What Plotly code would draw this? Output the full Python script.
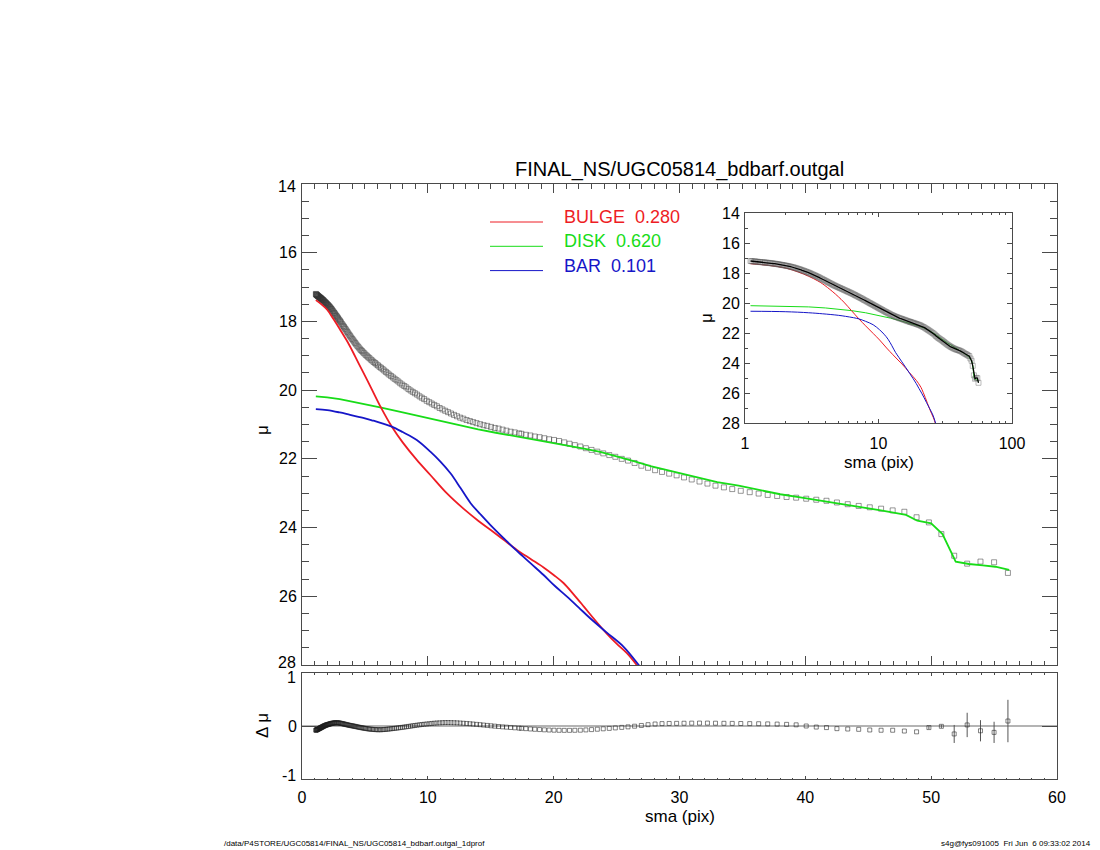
import plotly.graph_objects as go

# ---------------------------------------------------------------------------
# Style
# ---------------------------------------------------------------------------
FONT = "Liberation Sans, Arial, Helvetica, sans-serif"
NARROW = "Liberation Sans Narrow, Liberation Sans, Arial, sans-serif"
RED = "#ee1c24"
GREEN = "#18dc18"
BLUE = "#1616c8"
FRAME = "#4a4a4a"
W, H = 1100, 850

# ---------------------------------------------------------------------------
# Data
# ---------------------------------------------------------------------------
SMA = [
    1.10, 1.12, 1.14, 1.17, 1.19, 1.21, 1.24, 1.26, 1.29, 1.31,
    1.34, 1.37, 1.40, 1.42, 1.45, 1.48, 1.51, 1.54, 1.57, 1.60,
    1.63, 1.67, 1.70, 1.73, 1.77, 1.80, 1.84, 1.88, 1.91, 1.95,
    1.99, 2.03, 2.07, 2.11, 2.16, 2.20, 2.24, 2.29, 2.33, 2.38,
    2.43, 2.48, 2.53, 2.58, 2.63, 2.68, 2.74, 2.79, 2.85, 2.90,
    2.96, 3.02, 3.08, 3.14, 3.21, 3.27, 3.34, 3.40, 3.47, 3.54,
    3.61, 3.68, 3.76, 3.83, 3.91, 3.99, 4.07, 4.15, 4.23, 4.31,
    4.40, 4.49, 4.58, 4.67, 4.76, 4.86, 4.95, 5.05, 5.15, 5.26,
    5.36, 5.47, 5.58, 5.69, 5.81, 5.92, 6.04, 6.16, 6.28, 6.41,
    6.54, 6.67, 6.80, 6.94, 7.08, 7.22, 7.36, 7.51, 7.66, 7.81,
    7.97, 8.13, 8.29, 8.46, 8.63, 8.80, 8.97, 9.15, 9.34, 9.52,
    9.71, 9.91, 10.11, 10.31, 10.51, 10.72, 10.94, 11.16, 11.38, 11.61,
    11.84, 12.08, 12.32, 12.57, 12.82, 13.08, 13.34, 13.60, 13.87, 14.15,
    14.43, 14.72, 15.02, 15.32, 15.62, 15.94, 16.25, 16.58, 16.91, 17.25,
    17.44, 17.79, 18.15, 18.50, 18.88, 19.26, 19.64, 20.03, 20.43, 20.84,
    21.26, 21.68, 22.12, 22.56, 23.01, 23.47, 23.94, 24.42, 24.90, 25.41,
    25.91, 26.43, 26.97, 27.50, 28.06, 28.61, 29.18, 29.77, 30.36, 30.97,
    31.59, 32.22, 32.86, 33.53, 34.19, 34.87, 35.58, 36.29, 37.01, 37.76,
    38.51, 39.27, 40.07, 40.87, 41.68, 42.51, 43.37, 44.24, 45.12, 46.02,
    46.94, 47.87, 48.84, 49.82, 50.81, 51.83, 52.86, 53.92, 55.00, 56.10,
]

MU = [
    17.20, 17.21, 17.22, 17.23, 17.23, 17.24, 17.25, 17.26, 17.27, 17.27,
    17.28, 17.29, 17.30, 17.31, 17.31, 17.32, 17.33, 17.34, 17.35, 17.36,
    17.37, 17.38, 17.39, 17.40, 17.42, 17.43, 17.44, 17.46, 17.47, 17.48,
    17.50, 17.51, 17.53, 17.54, 17.56, 17.58, 17.60, 17.62, 17.64, 17.66,
    17.69, 17.71, 17.74, 17.76, 17.79, 17.82, 17.84, 17.87, 17.90, 17.93,
    17.96, 17.99, 18.02, 18.06, 18.09, 18.13, 18.16, 18.20, 18.23, 18.27,
    18.31, 18.35, 18.39, 18.43, 18.47, 18.51, 18.55, 18.59, 18.63, 18.67,
    18.71, 18.75, 18.79, 18.83, 18.86, 18.90, 18.93, 18.97, 19.00, 19.04,
    19.07, 19.11, 19.14, 19.18, 19.21, 19.25, 19.28, 19.32, 19.35, 19.39,
    19.43, 19.47, 19.51, 19.55, 19.59, 19.63, 19.67, 19.71, 19.75, 19.80,
    19.84, 19.88, 19.92, 19.97, 20.01, 20.05, 20.09, 20.13, 20.18, 20.22,
    20.26, 20.31, 20.35, 20.39, 20.43, 20.47, 20.52, 20.56, 20.60, 20.64,
    20.68, 20.72, 20.76, 20.80, 20.83, 20.87, 20.90, 20.93, 20.96, 20.99,
    21.02, 21.04, 21.07, 21.10, 21.12, 21.15, 21.18, 21.21, 21.23, 21.26,
    21.27, 21.30, 21.32, 21.35, 21.37, 21.40, 21.43, 21.45, 21.48, 21.52,
    21.56, 21.60, 21.64, 21.69, 21.74, 21.79, 21.84, 21.89, 21.94, 22.00,
    22.05, 22.12, 22.20, 22.26, 22.33, 22.38, 22.43, 22.48, 22.54, 22.60,
    22.66, 22.72, 22.78, 22.83, 22.88, 22.93, 22.97, 23.01, 23.05, 23.08,
    23.11, 23.13, 23.16, 23.19, 23.22, 23.27, 23.32, 23.37, 23.41, 23.45,
    23.50, 23.54, 23.70, 23.85, 24.19, 24.82, 25.05, 24.99, 25.01, 25.32,
]

RES = [
    -0.080, -0.078, -0.075, -0.072, -0.070, -0.067, -0.064, -0.060, -0.057, -0.055,
    -0.052, -0.048, -0.044, -0.041, -0.037, -0.034, -0.030, -0.026, -0.022, -0.018,
    -0.015, -0.010, -0.006, -0.002, 0.003, 0.006, 0.010, 0.015, 0.018, 0.021,
    0.022, 0.026, 0.029, 0.032, 0.036, 0.039, 0.042, 0.045, 0.048, 0.051,
    0.053, 0.055, 0.057, 0.058, 0.059, 0.060, 0.060, 0.060, 0.059, 0.058,
    0.057, 0.054, 0.051, 0.048, 0.045, 0.041, 0.037, 0.034, 0.030, 0.026,
    0.022, 0.018, 0.014, 0.010, 0.006, 0.003, 0.000, -0.004, -0.008, -0.012,
    -0.017, -0.021, -0.026, -0.030, -0.034, -0.038, -0.042, -0.046, -0.050, -0.054,
    -0.057, -0.060, -0.063, -0.065, -0.067, -0.069, -0.070, -0.070, -0.070, -0.068,
    -0.066, -0.063, -0.060, -0.056, -0.052, -0.048, -0.044, -0.040, -0.035, -0.030,
    -0.025, -0.020, -0.014, -0.008, -0.002, 0.004, 0.010, 0.016, 0.022, 0.028,
    0.033, 0.038, 0.043, 0.048, 0.053, 0.057, 0.060, 0.063, 0.065, 0.065,
    0.064, 0.062, 0.060, 0.056, 0.052, 0.048, 0.043, 0.037, 0.031, 0.025,
    0.018, 0.011, 0.004, -0.003, -0.010, -0.016, -0.022, -0.028, -0.034, -0.040,
    -0.044, -0.050, -0.056, -0.062, -0.067, -0.072, -0.076, -0.079, -0.081, -0.082,
    -0.082, -0.081, -0.079, -0.074, -0.068, -0.061, -0.053, -0.045, -0.036, -0.026,
    -0.016, -0.004, 0.010, 0.025, 0.038, 0.045, 0.048, 0.050, 0.052, 0.054,
    0.055, 0.055, 0.053, 0.051, 0.049, 0.047, 0.045, 0.043, 0.040, 0.036,
    0.031, 0.022, 0.000, -0.020, -0.030, -0.050, -0.057, -0.063, -0.075, -0.080,
    -0.080, -0.095, -0.110, -0.030, -0.006, -0.150, 0.020, -0.090, -0.120, 0.094,
]

# error bars visible only on the outermost isophotes
RES_ERR_TAIL = [0.03, 0.03, 0.17, 0.23, 0.20, 0.20, 0.40]

BULGE_SMA = [1.1, 1.5, 2.0, 2.5, 3.0, 3.5, 3.82, 4.5, 5.0, 5.5, 6.28, 7.13,
             8.0, 9.12, 10.2, 11.5, 12.83, 14.0, 15.0, 16.0, 17.08, 18.2,
             19.2, 20.0, 20.8, 21.6, 22.4, 23.3, 24.2, 25.0, 25.8, 26.6, 27.5]
BULGE_MU = [17.38, 17.49, 17.66, 17.93, 18.22, 18.52, 18.73, 19.22, 19.58,
            19.94, 20.51, 21.06, 21.52, 22.03, 22.47, 23.00, 23.45, 23.80,
            24.07, 24.35, 24.65, 24.92, 25.16, 25.38, 25.62, 25.95, 26.30,
            26.70, 27.08, 27.38, 27.65, 28.00, 28.45]

DISK_SMA = [1.1, 1.5, 2.0, 3.0, 4.0, 5.0, 6.3, 8.0, 10.0, 12.3, 14.0, 15.4,
            17.1, 20.0, 22.4, 23.7, 25.0, 26.5, 27.7, 29.0, 30.5, 31.7, 33.0,
            34.7, 36.5, 38.0, 39.6, 42.0, 44.0, 46.0, 48.0, 48.9, 50.0, 50.9,
            51.95, 53.0, 54.1, 55.1, 56.2]
DISK_MU = [20.18, 20.19, 20.21, 20.26, 20.33, 20.41, 20.51, 20.65, 20.82,
           21.01, 21.14, 21.24, 21.35, 21.53, 21.70, 21.80, 21.92, 22.08,
           22.21, 22.33, 22.46, 22.58, 22.68, 22.78, 22.92, 23.03, 23.12,
           23.26, 23.37, 23.50, 23.63, 23.80, 23.88, 24.19, 24.99, 25.06,
           25.10, 25.14, 25.23]

BAR_SMA = [1.1, 2.0, 3.0, 3.82, 5.0, 5.67, 6.5, 7.13, 8.0, 9.12, 10.2, 11.0,
           11.8, 12.6, 13.4, 14.2, 14.96, 16.0, 17.08, 18.2, 19.2, 20.1,
           21.06, 22.0, 22.9, 24.2, 25.56, 26.76, 27.5]
BAR_MU = [20.55, 20.58, 20.65, 20.72, 20.82, 20.89, 20.98, 21.06, 21.22,
          21.45, 21.79, 22.08, 22.42, 22.85, 23.29, 23.62, 23.92, 24.30,
          24.68, 25.05, 25.38, 25.70, 26.01, 26.33, 26.64, 27.05, 27.47,
          28.00, 28.35]

COMPONENTS = [("BULGE", 0.280, RED), ("DISK", 0.620, GREEN), ("BAR", 0.101, BLUE)]

TITLE = "FINAL_NS/UGC05814_bdbarf.outgal"
FOOT_LEFT = "/data/P4STORE/UGC05814/FINAL_NS/UGC05814_bdbarf.outgal_1dprof"
FOOT_RIGHT = "s4g@fys091005\u00a0\u00a0Fri Jun\u00a0\u00a06 09:33:02 2014"


def px(x):
    return x / W


def py(y):
    return 1 - y / H


def frame_axis(**kw):
    base = dict(showline=True, linecolor=FRAME, linewidth=1, mirror="allticks",
                ticks="inside", tickcolor=FRAME, tickwidth=1, showgrid=False,
                zeroline=False, automargin=False,
                tickfont=dict(family=FONT, size=16, color="black"))
    base.update(kw)
    return base


def minor(dtick, ticklen):
    return dict(ticks="inside", dtick=dtick, ticklen=ticklen,
                tickcolor=FRAME, tickwidth=1, showgrid=False)


# plot frames (pixel positions in the 1100x850 page)
MAIN_X = [px(302), px(1057)]
MAIN_Y = [py(665), py(184)]
RES_Y = [py(779), py(673)]
INS_X = [px(745), px(1012)]
INS_Y = [py(423), py(213)]

fig = go.Figure()

# --- main profile -----------------------------------------------------------
fig.add_trace(go.Scatter(
    x=SMA, y=MU, mode="markers", xaxis="x", yaxis="y",
    marker=dict(symbol="square-open", size=5, color="rgba(50,50,50,0.5)",
                line=dict(width=1)),
))
fig.add_trace(go.Scatter(x=DISK_SMA, y=DISK_MU, mode="lines", xaxis="x",
                         yaxis="y", line=dict(color=GREEN, width=1.8)))
fig.add_trace(go.Scatter(x=BULGE_SMA, y=BULGE_MU, mode="lines", xaxis="x",
                         yaxis="y",
                         line=dict(color=RED, width=1.8, shape="spline")))
fig.add_trace(go.Scatter(x=BAR_SMA, y=BAR_MU, mode="lines", xaxis="x",
                         yaxis="y",
                         line=dict(color=BLUE, width=1.8, shape="spline")))

# --- residuals --------------------------------------------------------------
n_tail = len(RES_ERR_TAIL)
fig.add_trace(go.Scatter(
    x=SMA[-n_tail:], y=RES[-n_tail:], mode="markers", xaxis="x2", yaxis="y2",
    marker=dict(size=1, color="rgba(0,0,0,0)"),
    error_y=dict(type="data", array=RES_ERR_TAIL, width=0, thickness=1,
                 color="#555555"),
))
fig.add_trace(go.Scatter(
    x=SMA, y=RES, mode="markers", xaxis="x2", yaxis="y2",
    marker=dict(symbol="square-open", size=4, color="rgba(30,30,30,0.55)",
                line=dict(width=1)),
))

# --- inset (log sma) --------------------------------------------------------
fig.add_trace(go.Scatter(x=DISK_SMA, y=DISK_MU, mode="lines", xaxis="x3",
                         yaxis="y3", line=dict(color=GREEN, width=1)))
fig.add_trace(go.Scatter(x=BULGE_SMA, y=BULGE_MU, mode="lines", xaxis="x3",
                         yaxis="y3",
                         line=dict(color=RED, width=1, shape="spline")))
fig.add_trace(go.Scatter(x=BAR_SMA, y=BAR_MU, mode="lines", xaxis="x3",
                         yaxis="y3",
                         line=dict(color=BLUE, width=1, shape="spline")))
fig.add_trace(go.Scatter(
    x=SMA, y=MU, mode="markers", xaxis="x3", yaxis="y3",
    marker=dict(symbol="square-open", size=5, color="rgba(90,90,90,0.4)",
                line=dict(width=1)),
))
fig.add_trace(go.Scatter(x=SMA, y=MU, mode="lines", xaxis="x3", yaxis="y3",
                         line=dict(color="black", width=1.3)))

# zero line of the residual panel
shapes = [dict(type="line", xref="x2", yref="y2", x0=0, x1=60, y0=0, y1=0,
               line=dict(color="#b4b4b4", width=2), layer="below")]

# --- legend (IDL style: short line + coloured label) -------------------------
annotations = []
for i, (name, frac, color) in enumerate(COMPONENTS):
    line_y = 222 + 24.3 * i
    shapes.append(dict(type="line", xref="paper", yref="paper",
                       x0=px(490), x1=px(543), y0=py(line_y), y1=py(line_y),
                       line=dict(color=color, width=1)))
    annotations.append(dict(
        text=f"{name}\u00a0\u00a0{frac:.3f}", x=px(562), y=py(line_y - 5),
        xref="paper", yref="paper", xanchor="left", yanchor="middle",
        showarrow=False, font=dict(family=FONT, size=18, color=color)))

# edge tick labels nudged inside the frame, as IDL draws them
for val, ref, shift in [(14, "y", -3), (28, "y", 3), (1, "y2", -4), (-1, "y2", 4)]:
    annotations.append(dict(
        text=str(val), x=MAIN_X[0], y=val, xref="paper", yref=ref,
        xanchor="right", yanchor="middle", xshift=-4, yshift=shift,
        showarrow=False, font=dict(family=FONT, size=16, color="black")))


def label(text, x, y, size=17, angle=0, anchor="center", family=FONT):
    annotations.append(dict(
        text=text, x=x, y=y, xref="paper", yref="paper", xanchor=anchor,
        yanchor="middle", textangle=angle, showarrow=False,
        font=dict(family=family, size=size, color="black")))


label(TITLE, px(679.5), py(169), size=20)
label("\u03bc", px(262), py(430), size=17, angle=-90)
label("\u0394 \u03bc", px(262), py(726), size=17, angle=-90)
label("sma (pix)", px(679.5), py(816), size=17)
label("\u03bc", px(706), py(318), size=17, angle=-90)
label("sma (pix)", px(878.5), py(462), size=17)
label(FOOT_LEFT, px(222), py(843), size=8, anchor="left", family=NARROW)
label(FOOT_RIGHT, px(1093), py(843), size=8, anchor="right", family=NARROW)

fig.update_layout(
    width=W, height=H,
    margin=dict(l=0, r=0, t=0, b=0, autoexpand=False),
    paper_bgcolor="white", plot_bgcolor="white",
    showlegend=False,
    font=dict(family=FONT, color="black"),
    annotations=annotations,
    shapes=shapes,
    xaxis=frame_axis(domain=MAIN_X, anchor="y", range=[0, 60], dtick=10,
                     ticklen=9, showticklabels=False, minor=minor(1, 4.5)),
    yaxis=frame_axis(domain=MAIN_Y, anchor="x", range=[28, 14],
                     tickvals=[16, 18, 20, 22, 24, 26, 28, 14],
                     ticktext=["16", "18", "20", "22", "24", "26", "", ""],
                     ticklen=15, minor=minor(0.5, 7), ticklabelstandoff=1),
    xaxis2=frame_axis(domain=MAIN_X, anchor="y2", range=[0, 60], dtick=10,
                      ticklen=3, minor=minor(1, 1.5), ticklabelstandoff=4),
    yaxis2=frame_axis(domain=RES_Y, anchor="x2", range=[-1, 1],
                      tickvals=[-1, 0, 1], ticktext=["", "0", ""],
                      ticklen=15, ticklabelstandoff=1),
    xaxis3=frame_axis(domain=INS_X, anchor="y3", type="log", range=[0, 2],
                      dtick=1, ticklen=4, minor=minor("D1", 2),
                      ticklabelstandoff=6),
    yaxis3=frame_axis(domain=INS_Y, anchor="x3", range=[28, 14], dtick=2,
                      ticklen=5, minor=minor(1, 2.5), ticklabelstandoff=1),
)

fig.write_html("out.html", config={"displayModeBar": False},
               post_script="document.body.style.margin='0';")
